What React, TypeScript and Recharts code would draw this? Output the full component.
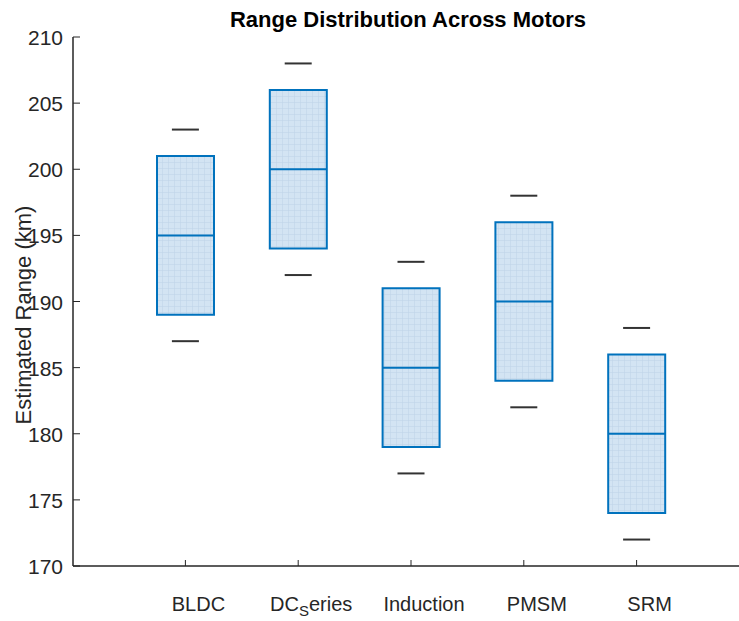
import React from 'react';
import { ComposedChart, Bar, Scatter, XAxis, YAxis } from 'recharts';

// motor data (km)
const motors = ['BLDC', 'DC_Series', 'Induction', 'PMSM', 'SRM'];
const mins = [187, 192, 177, 182, 172];
const q1s = [189, 194, 179, 184, 174];
const medians = [195, 200, 185, 190, 180];
const q3s = [201, 206, 191, 196, 186];
const maxs = [203, 208, 193, 198, 188];
const yTicks = [170, 175, 180, 185, 190, 195, 200, 205, 210];

const data = motors.map((name, i) => ({
  name,
  min: mins[i],
  q1: q1s[i],
  median: medians[i],
  q3: q3s[i],
  max: maxs[i],
}));

const FONT = '"Liberation Sans", Arial, Helvetica, sans-serif';
const AXIS = '#262626';
const BLUE = '#0072BD';
const BOX_W = 57;
const CAP_W = 27;

const XTick = (props: any) => {
  const { x, y, payload } = props;
  const label: string = payload.value;
  const parts = label.split('_');
  return (
    <g>
      <line x1={x} y1={y} x2={x} y2={y - 6} stroke={AXIS} strokeWidth={1} />
      <text x={x + 13} y={y + 45} textAnchor="middle" fontSize={20} fill={AXIS} fontFamily={FONT}>
        {parts.length > 1 ? (
          <>
            <tspan>{parts[0]}</tspan>
            <tspan dy={5} fontSize={15}>{parts[1][0]}</tspan>
            <tspan dy={-5}>{parts[1].slice(1)}</tspan>
          </>
        ) : (
          label
        )}
      </text>
    </g>
  );
};

const YTick = (props: any) => {
  const { x, y, payload } = props;
  return (
    <g>
      <line x1={x} y1={y} x2={x + 7} y2={y} stroke={AXIS} strokeWidth={1} />
      <text x={x - 10} y={y + 8} textAnchor="end" fontSize={21} fill={AXIS} fontFamily={FONT}>
        {payload.value}
      </text>
    </g>
  );
};

const capShape = (props: any) => {
  const { cx, cy } = props;
  return <line x1={cx - CAP_W / 2} x2={cx + CAP_W / 2} y1={cy} y2={cy} stroke="#333" strokeWidth={2} />;
};

const medianShape = (props: any) => {
  const { cx, cy } = props;
  return <line x1={cx - BOX_W / 2} x2={cx + BOX_W / 2} y1={cy} y2={cy} stroke={BLUE} strokeWidth={2} />;
};

export default function App() {
  return (
    <div style={{ position: 'absolute', left: 0, top: 0, width: 739, height: 621, background: '#fff' }}>
      <ComposedChart width={739} height={621} data={data} margin={{ top: 37, right: 0, bottom: 0, left: 0 }}>
        <defs>
          <pattern id="hatch" width="6" height="6" patternUnits="userSpaceOnUse">
            <rect width="6" height="6" fill="#d3e4f3" />
            <line x1="0" y1="0" x2="6" y2="0" stroke="#bed3e7" strokeWidth={1} />
            <line x1="0" y1="0" x2="0" y2="6" stroke="#bed3e7" strokeWidth={1} />
          </pattern>
        </defs>
        <XAxis
          dataKey="name"
          type="category"
          height={55}
          padding={{ left: 56, right: 46 }}
          axisLine={{ stroke: AXIS, strokeWidth: 1.5 }}
          tickLine={false}
          tickSize={0}
          tickMargin={0}
          tick={<XTick />}
          interval={0}
        />
        <YAxis
          type="number"
          domain={[170, 210]}
          ticks={yTicks}
          width={73}
          axisLine={{ stroke: AXIS, strokeWidth: 1.5 }}
          tickLine={false}
          tickSize={0}
          tickMargin={0}
          tick={<YTick />}
          interval={0}
        />
        <Bar
          dataKey={(d: any) => [d.q1, d.q3]}
          barSize={BOX_W}
          fill="url(#hatch)"
          stroke={BLUE}
          strokeWidth={2}
          isAnimationActive={false}
          legendType="none"
        />
        <Scatter dataKey="median" shape={medianShape} isAnimationActive={false} legendType="none" />
        <Scatter dataKey="max" shape={capShape} isAnimationActive={false} legendType="none" />
        <Scatter dataKey="min" shape={capShape} isAnimationActive={false} legendType="none" />
      </ComposedChart>
      <svg width={739} height={621} style={{ position: 'absolute', left: 0, top: 0, pointerEvents: 'none' }}>
        <text x={408} y={27} textAnchor="middle" fontSize={22} fontWeight="bold" fill="#000" fontFamily={FONT}>
          Range Distribution Across Motors
        </text>
        <text
          x={31}
          y={315}
          transform="rotate(-90 31 315)"
          textAnchor="middle"
          fontSize={22}
          fill={AXIS}
          fontFamily={FONT}
        >
          Estimated Range (km)
        </text>
      </svg>
    </div>
  );
}
